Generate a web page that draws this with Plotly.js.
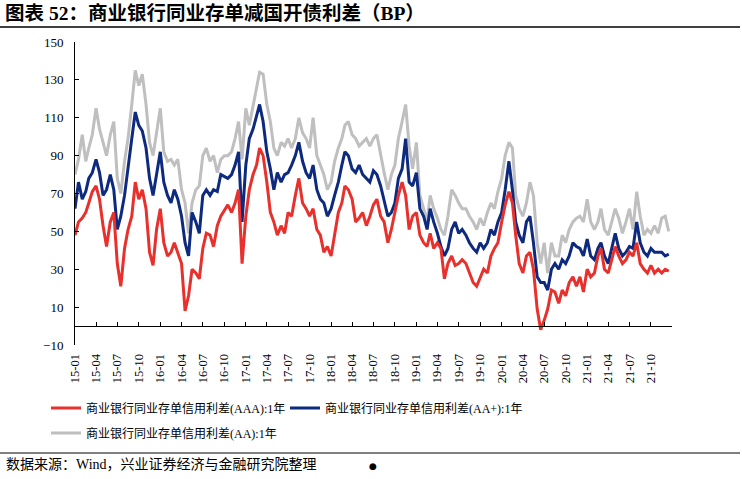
<!DOCTYPE html>
<html>
<head>
<meta charset="utf-8">
<script src="https://cdn.plot.ly/plotly-3.0.1.min.js"></script>
<style>
  body { margin: 0; background: #fff; }
  #plot { width: 742px; height: 479px; }
</style>
</head>
<body>
<div id="plot"></div>
<script>
////////// DATA (semi-monthly readings, BP) ///////////////

const startYear = 2015
const endYear = 2021

// 1st and 16th of every month
let dates = []
for (let y = startYear; y <= endYear; y++) {
  for (let mo = 1; mo <= 12; mo++) {
    let mm = String(mo).padStart(2, '0')
    dates.push(y + '-' + mm + '-01', y + '-' + mm + '-16')
  }
}

const nameAAA = '商业银行同业存单信用利差(AAA):1年'
const nameAAplus = '商业银行同业存单信用利差(AA+):1年'
const nameAA = '商业银行同业存单信用利差(AA):1年'

let aaa = [
  48, 55, 57, 60, 65, 71, 74, 67, 53, 42, 55, 60, 33, 21, 41, 51, 58, 76, 67, 72, 62, 39, 32, 51, 62, 44, 37, 39, 44, 39, 33, 8, 16, 30, 28, 25, 41, 49, 48, 42, 53, 58, 61,
  64, 60, 65, 72, 33, 58, 72, 80, 85, 94, 90, 76, 60, 55, 48, 53, 49, 60, 58, 69, 78, 65, 62, 58, 62, 51, 48, 39, 42, 37, 48, 60, 65, 74, 72, 67, 55, 57, 60, 53, 58, 64,
  67, 58, 55, 44, 51, 60, 69, 76, 69, 51, 58, 60, 48, 44, 42, 49, 41, 44, 41, 25, 33, 37, 32, 33, 35, 33, 28, 23, 21, 26, 30, 28, 37, 41, 44, 55, 64, 71, 65, 48, 33, 28,
  37, 39, 30, 9, -2, 3, 9, 19, 18, 12, 19, 16, 23, 26, 21, 26, 18, 30, 26, 28, 37, 41, 30, 28, 35, 42, 37, 33, 35, 39, 37, 44, 33, 30, 28, 32, 28, 30, 28, 30, 29
]

let aaPlus = [
  62, 76, 67, 71, 78, 81, 88, 81, 69, 72, 80, 72, 51, 58, 69, 85, 99, 113, 106, 103, 94, 78, 69, 80, 92, 76, 69, 65, 72, 67, 58, 44, 37, 60, 55, 49, 69, 72, 69, 72, 71, 80, 79,
  78, 80, 85, 92, 55, 85, 99, 104, 111, 117, 108, 92, 83, 72, 81, 76, 80, 81, 85, 90, 97, 87, 81, 78, 85, 72, 67, 65, 58, 62, 69, 76, 85, 92, 90, 83, 81, 85, 80, 78, 76, 82,
  80, 74, 67, 58, 60, 65, 78, 83, 99, 76, 74, 81, 62, 58, 51, 62, 55, 49, 42, 37, 41, 51, 55, 49, 51, 48, 44, 41, 39, 44, 41, 44, 51, 48, 55, 60, 72, 87, 72, 55, 48, 44,
  55, 58, 44, 26, 23, 23, 19, 30, 33, 30, 35, 33, 37, 44, 42, 41, 37, 46, 37, 35, 41, 44, 37, 33, 41, 49, 41, 37, 39, 42, 41, 55, 44, 39, 37, 41, 39, 39, 39, 37, 38
]

let aa = [
  80, 88, 101, 87, 94, 101, 115, 104, 97, 90, 101, 108, 78, 70, 87, 99, 117, 135, 127, 133, 117, 97, 90, 102, 115, 92, 87, 88, 85, 88, 72, 65, 49, 65, 72, 74, 90, 94, 87, 90, 81, 88, 90,
  90, 92, 99, 108, 88, 115, 106, 117, 126, 134, 133, 117, 108, 94, 90, 97, 95, 99, 94, 99, 110, 102, 99, 94, 110, 90, 85, 80, 72, 76, 87, 94, 99, 106, 108, 101, 99, 95, 97, 99, 95, 99,
  101, 90, 81, 72, 80, 85, 99, 108, 117, 95, 83, 97, 69, 62, 55, 69, 62, 57, 51, 48, 58, 72, 69, 65, 62, 62, 58, 55, 51, 57, 53, 60, 65, 62, 71, 78, 90, 97, 94, 69, 62, 58,
  65, 76, 69, 44, 33, 44, 28, 44, 37, 37, 48, 44, 51, 55, 57, 58, 55, 67, 55, 51, 55, 62, 51, 48, 55, 62, 57, 49, 55, 62, 51, 71, 58, 48, 51, 49, 53, 49, 57, 58, 50
]

////////// PLOT ///////////////

// plot area in pixels: x 75..672, y 42..345
const W = 597, H = 303
function px(x) { return (x - 75) / W }
function py(y) { return (345 - y) / H }

const serif = 'Liberation Serif, Noto Sans CJK SC, serif'

let data = [{
    x: dates,
    y: aa,
    type: 'scatter',
    mode: 'lines',
    name: nameAA,
    legend: 'legend3',
    line: {color: '#BFBFBF', width: 3}
  }, {
    x: dates,
    y: aaPlus,
    type: 'scatter',
    mode: 'lines',
    name: nameAAplus,
    legend: 'legend2',
    line: {color: '#0D2A7E', width: 3}
  }, {
    x: dates,
    y: aaa,
    type: 'scatter',
    mode: 'lines',
    name: nameAAA,
    legend: 'legend',
    line: {color: '#E8302C', width: 3}
  }
]

let legendStyle = {
  orientation: 'v',
  bgcolor: 'rgba(0,0,0,0)',
  borderwidth: 0,
  itemwidth: 30,
  xanchor: 'left',
  yanchor: 'middle',
  font: {family: serif, size: 12, color: '#000'}
}

let layout = {
  width: 742,
  height: 479,
  margin: {l: 75, r: 70, t: 42, b: 134},
  paper_bgcolor: '#fff',
  plot_bgcolor: '#fff',
  font: {family: serif, size: 13, color: '#000'},
  title: {
    text: '图表 52：商业银行同业存单减国开债利差（BP）',
    font: {family: serif, size: 19.5, weight: 'bold', color: '#000'},
    xref: 'container', yref: 'container',
    x: 5 / 742, xanchor: 'left',
    y: 1 - 13 / 479, yanchor: 'middle'
  },
  showlegend: true,
  legend: Object.assign({}, legendStyle, {x: px(46), y: py(408)}),
  legend2: Object.assign({}, legendStyle, {x: px(285), y: py(408)}),
  legend3: Object.assign({}, legendStyle, {x: px(46), y: py(433)}),
  xaxis: {
    type: 'date',
    range: ['2015-01-01', '2021-12-30'],
    tickmode: 'linear',
    tick0: '2015-01-01',
    dtick: 'M3',
    tickformat: '%y-%m',
    tickangle: -90,
    ticks: 'inside',
    ticklen: 4,
    tickcolor: '#000',
    showline: true,
    linecolor: '#000',
    linewidth: 1,
    showgrid: false,
    zeroline: false,
    anchor: 'free',
    position: 10 / 160,
    ticklabelstandoff: 22,
    tickfont: {family: serif, size: 12.5}
  },
  yaxis: {
    range: [-10, 150],
    tickmode: 'linear',
    tick0: -10,
    dtick: 20,
    ticks: 'inside',
    ticklen: 4,
    tickcolor: '#000',
    showline: true,
    linecolor: '#000',
    linewidth: 1,
    showgrid: false,
    zeroline: false,
    ticklabelstandoff: 8,
    tickfont: {family: serif, size: 13}
  },
  shapes: [
    {type: 'line', xref: 'paper', yref: 'paper', x0: px(0), x1: px(740), y0: py(27), y1: py(27),
     line: {color: '#000', width: 1.3}},
    {type: 'line', xref: 'paper', yref: 'paper', x0: px(0), x1: px(740), y0: py(453), y1: py(453),
     line: {color: '#000', width: 1}}
  ],
  annotations: [
    {text: '数据来源：Wind，兴业证券经济与金融研究院整理', xref: 'paper', yref: 'paper',
     x: px(4), y: py(464), xanchor: 'left', yanchor: 'middle', showarrow: false,
     font: {family: serif, size: 14, color: '#000'}},
    {text: '●', xref: 'paper', yref: 'paper', x: px(373), y: py(466),
     xanchor: 'center', yanchor: 'middle', showarrow: false,
     font: {family: 'DejaVu Sans', size: 9, color: '#000'}}
  ]
}

let config = {staticPlot: true, displayModeBar: false}

Plotly.newPlot('plot', data, layout, config)
</script>
</body>
</html>
